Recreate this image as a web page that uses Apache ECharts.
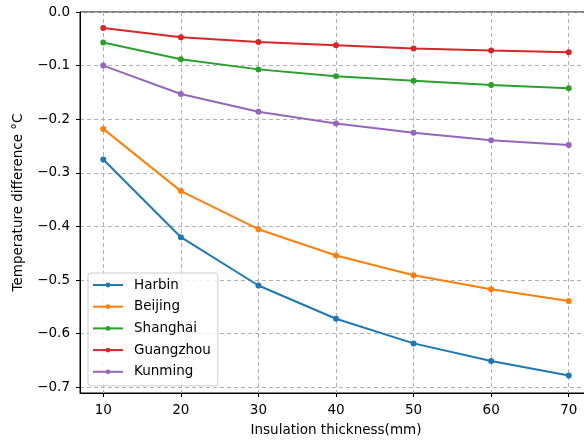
<!DOCTYPE html>
<html>
<head>
<meta charset="utf-8">
<script src="https://cdn.jsdelivr.net/npm/echarts@6/dist/echarts.min.js"></script>
<style>html,body{margin:0;padding:0;background:#fff}#c{width:584px;height:440px}</style>
</head>
<body>
<div id="c"></div>
<script>
var thickness = [10, 20, 30, 40, 50, 60, 70];
var harbin    = [-0.275, -0.420, -0.510, -0.572, -0.618, -0.651, -0.678];
var beijing   = [-0.218, -0.334, -0.405, -0.454, -0.491, -0.517, -0.539];
var shanghai  = [-0.057, -0.088, -0.107, -0.120, -0.128, -0.136, -0.142];
var guangzhou = [-0.030, -0.047, -0.056, -0.062, -0.068, -0.072, -0.075];
var kunming   = [-0.100, -0.153, -0.186, -0.208, -0.225, -0.239, -0.248];
var xTicks = [10, 20, 30, 40, 50, 60, 70];
var yTicks = [0, -0.1, -0.2, -0.3, -0.4, -0.5, -0.6, -0.7];

var names = ['Harbin', 'Beijing', 'Shanghai', 'Guangzhou', 'Kunming'];
var values = [harbin, beijing, shanghai, guangzhou, kunming];
var colors = ['#1f77b4', '#ff7f0e', '#2ca02c', '#d62728', '#9467bd'];

var FONT = 'DejaVu Sans';
var chart = echarts.init(document.getElementById('c'), null, {renderer: 'canvas'});
var series = names.map(function (n, i) {
  return {
    name: n,
    type: 'line',
    data: thickness.map(function (x, j) { return [x, values[i][j]]; }),
    symbol: 'circle',
    symbolSize: 6,
    showSymbol: true,
    lineStyle: {width: 2, color: colors[i]},
    itemStyle: {color: colors[i]},
    animation: false,
    z: 3
  };
});
function fmt(v) {
  var s = (Math.abs(v) < 1e-9) ? '0.0' : v.toFixed(1);
  return s.replace('-', '\u2212');
}
chart.setOption({
  animation: false,
  grid: {left: 80, right: -8, top: 12, bottom: 47, outerBoundsMode: 'none', containLabel: false,
         show: true, borderColor: '#000', borderWidth: 1, backgroundColor: 'transparent'},
  legend: {
    orient: 'vertical',
    left: 88, top: 273,
    data: names,
    itemWidth: 30, itemHeight: 6, itemGap: 7.7,
    padding: [5, 7, 7, 4],
    borderColor: '#cccccc', borderWidth: 1, borderRadius: 3,
    backgroundColor: 'rgba(255,255,255,0.8)',
    textStyle: {fontFamily: FONT, fontSize: 13.5, color: '#000', padding: [0, 0, 0, 6], lineHeight: 14},
    itemStyle: {borderWidth: 0}
  },
  xAxis: {
    type: 'value',
    min: 7, max: 73,
    name: 'Insulation thickness(mm)',
    nameLocation: 'middle',
    nameGap: 30,
    nameTextStyle: {fontFamily: FONT, fontSize: 13.5, color: '#000'},
    axisLine: {show: true, onZero: false, lineStyle: {color: '#000', width: 1}},
    axisTick: {show: true, length: 4, lineStyle: {color: '#000'}, customValues: xTicks},
    axisLabel: {fontFamily: FONT, fontSize: 13.5, color: '#000', margin: 10, customValues: xTicks, formatter: function (v) { return String(v); }},
    splitLine: {show: true, lineStyle: {color: '#b0b0b0', type: [4, 3], width: 1}}
  },
  yAxis: {
    type: 'value',
    min: -0.7105, max: 0,
    name: 'Temperature difference \u00b0C',
    nameLocation: 'middle',
    nameGap: 55,
    nameTextStyle: {fontFamily: FONT, fontSize: 13.5, color: '#000'},
    axisLine: {show: true, onZero: false, lineStyle: {color: '#000', width: 1}},
    axisTick: {show: true, length: 4, lineStyle: {color: '#000'}, customValues: yTicks},
    axisLabel: {fontFamily: FONT, fontSize: 13.5, color: '#000', margin: 10, customValues: yTicks, formatter: fmt},
    splitLine: {show: true, lineStyle: {color: '#b0b0b0', type: [4, 3], width: 1}}
  },
  series: series
});
</script>
</body>
</html>
